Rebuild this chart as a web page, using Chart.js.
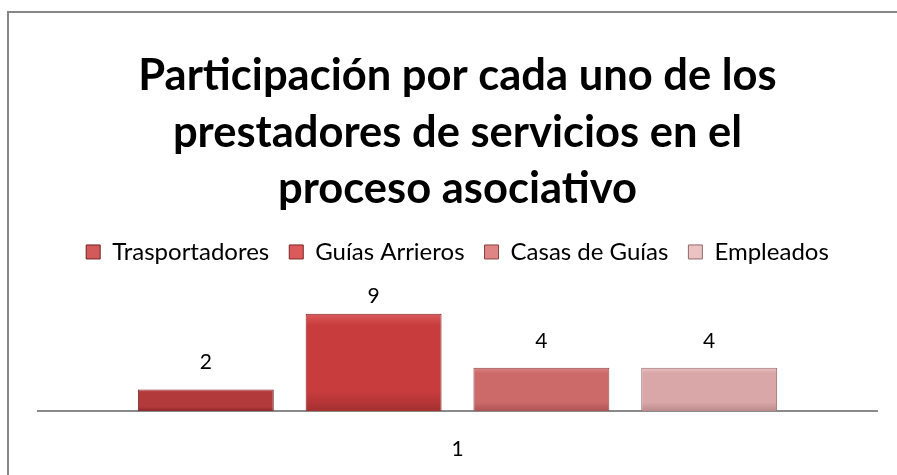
<!DOCTYPE html>
<html>
<head>
<meta charset="utf-8">
<script src="https://cdn.jsdelivr.net/npm/chart.js@4.4.1/dist/chart.umd.min.js"></script>
<style>
  html, body { margin: 0; padding: 0; background: #fff; }
  #wrap { width: 897px; height: 475px; position: relative; }
</style>
</head>
<body>
<div id="wrap"><canvas id="chart" width="897" height="475"></canvas></div>
<script>
// data
const categories = ['1'];
const seriesNames = ['Trasportadores', 'Guías Arrieros', 'Casas de Guías', 'Empleados'];
const trasportadores = [2];
const guiasArrieros = [9];
const casasDeGuias = [4];
const empleados = [4];
const titleLines = ['Participación por cada uno de los', 'prestadores de servicios en el', 'proceso asociativo'];

const FONT = 'Lato, "Open Sans", sans-serif';

// colours: [top highlight, body, bottom shade]
const palette = [
    ['#d35a5a', '#b33a3b', '#8c2a2b'],
    ['#dc5a5a', '#c83c3d', '#a53031'],
    ['#e08585', '#cc6a6a', '#ad5354'],
    ['#ecc3c3', '#d9a7a7', '#bd8a8b']
];
const borders = ['#6e2223', '#7c2526', '#8a4242', '#8f6a6b'];

function barFill(i) {
    return function (ctx) {
        const c = palette[i];
        if (ctx.type !== 'data') return c[1];
        const chart = ctx.chart;
        if (!chart.chartArea) return c[1];
        const y = chart.scales.y;
        const top = y.getPixelForValue(ctx.raw);
        const bottom = y.getPixelForValue(0);
        const g = chart.ctx.createLinearGradient(0, top, 0, bottom);
        g.addColorStop(0, c[0]);
        g.addColorStop(0.12, c[1]);
        g.addColorStop(0.8, c[1]);
        g.addColorStop(1, c[2]);
        return g;
    };
}

const values = [trasportadores, guiasArrieros, casasDeGuias, empleados];
const datasets = seriesNames.map((name, i) => ({
    label: name,
    data: values[i],
    backgroundColor: barFill(i),
    borderColor: borders[i],
    borderWidth: 1,
    barPercentage: 0.81,
    categoryPercentage: 0.80
}));

// value labels above the bars
const valueLabels = {
    id: 'valueLabels',
    afterDatasetsDraw(chart) {
        const ctx = chart.ctx;
        ctx.save();
        ctx.font = '21px ' + FONT;
        ctx.fillStyle = '#000';
        ctx.textAlign = 'center';
        ctx.textBaseline = 'middle';
        chart.data.datasets.forEach((ds, i) => {
            chart.getDatasetMeta(i).data.forEach((bar, j) => {
                const y = Math.max(bar.y - 27, chart.chartArea.top - 7);
                ctx.fillText(String(ds.data[j]), bar.x, y);
            });
        });
        ctx.restore();
    }
};

// extra room under the legend
const legendGap = {
    id: 'legendGap',
    beforeInit(chart) {
        const fit = chart.legend.fit;
        chart.legend.fit = function () {
            fit.call(this);
            this.height += 29;
        };
    }
};

// frame around the chart
const frame = {
    id: 'frame',
    afterDraw(chart) {
        const ctx = chart.ctx;
        ctx.save();
        ctx.strokeStyle = '#868686';
        ctx.lineWidth = 2;
        ctx.strokeRect(8, 12, 920, 520);
        ctx.restore();
    }
};

new Chart(document.getElementById('chart'), {
    type: 'bar',
    data: { labels: categories, datasets: datasets },
    options: {
        responsive: false,
        animation: false,
        layout: { padding: { left: 38, right: 20, top: 0, bottom: 12 } },
        plugins: {
            title: {
                display: true,
                text: titleLines,
                color: '#000',
                font: { family: FONT, size: 43.5, weight: 'bold', lineHeight: 1.31 },
                padding: { top: 47, bottom: 2 }
            },
            legend: {
                display: true,
                position: 'top',
                labels: {
                    color: '#000',
                    font: { family: FONT, size: 24 },
                    boxWidth: 14,
                    boxHeight: 14,
                    padding: 20
                }
            },
            tooltip: { enabled: false }
        },
        scales: {
            x: {
                grid: { display: false, drawTicks: false },
                border: { display: true, color: '#8a8a8a', width: 2 },
                ticks: { color: '#000', font: { family: FONT, size: 21 }, padding: 26 },
                afterFit(scale) { scale.height = 52; }
            },
            y: {
                display: false,
                min: 0,
                max: 10
            }
        }
    },
    plugins: [valueLabels, legendGap, frame]
});
</script>
</body>
</html>
